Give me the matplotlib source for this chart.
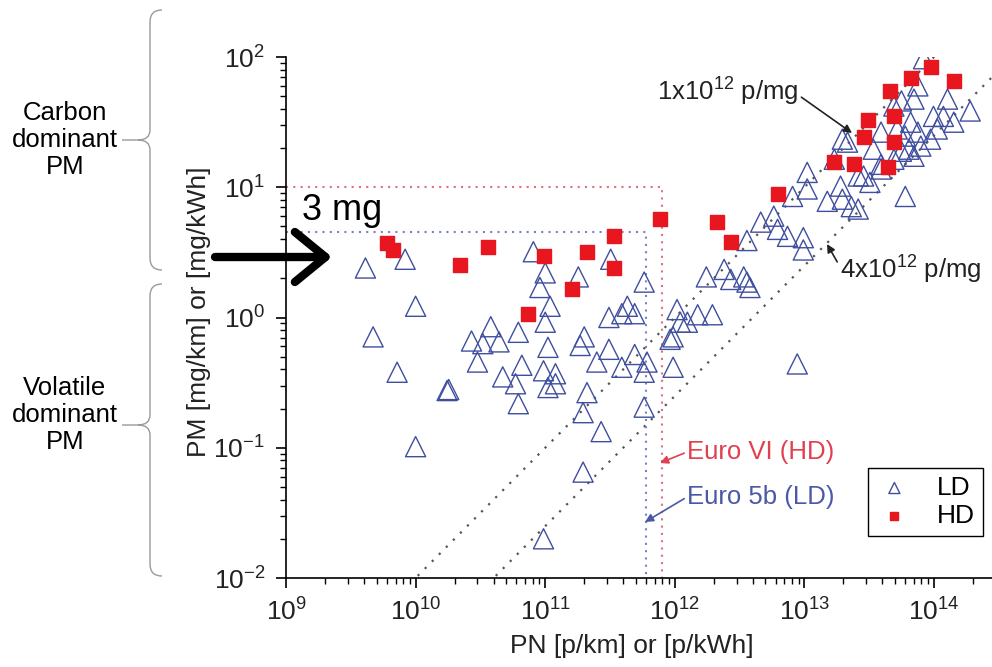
import numpy as np
import matplotlib
matplotlib.use("Agg")
import matplotlib.pyplot as plt
from matplotlib.path import Path
from matplotlib.patches import PathPatch
from matplotlib.ticker import LogLocator, LogFormatterMathtext, NullFormatter

plt.rcParams['font.family'] = ['Liberation Sans', 'DejaVu Sans']
plt.rcParams['mathtext.fontset'] = 'custom'
plt.rcParams['mathtext.rm'] = 'Liberation Sans'
plt.rcParams['mathtext.it'] = 'Liberation Sans:italic'
plt.rcParams['mathtext.bf'] = 'Liberation Sans:bold'
plt.rcParams['axes.unicode_minus'] = False

# heavy duty engines (red squares)
hd_pn = [6.0e9, 6.7e9, 2.2e10, 3.6e10, 9.7e10, 2.1e11, 3.4e11, 3.4e11, 1.6e11, 7.4e10,
         7.7e11, 2.1e12, 2.7e12, 6.2e12, 1.7e13, 2.4e13, 4.4e13, 2.9e13, 4.9e13, 3.1e13,
         4.9e13, 4.6e13, 6.6e13, 9.4e13, 1.42e14]
hd_pm = [3.7, 3.3, 2.55, 3.5, 2.95, 3.2, 4.2, 2.4, 1.66, 1.07,
         5.7, 5.4, 3.8, 8.8, 15.6, 15.0, 14.3, 24.3, 22.2, 33,
         35, 55, 69, 84, 65]

# light duty vehicles (open triangles)
ld_pn = [4.1e9, 8.3e9, 1.0e10, 4.7e9, 7.2e9, 1.75e10, 1.8e10, 1.0e10, 8.1e10, 1.0e11,
         9.1e10, 1.09e11, 1.0e11, 6.2e10, 3.8e10, 2.7e10, 3.3e10, 4.4e10, 3.0e10, 6.6e10,
         1.05e11, 4.7e10, 5.9e10, 9.7e10, 1.2e11, 1.05e11, 1.2e11, 6.2e10, 1.8e11, 3.2e11,
         5.8e11, 2.0e11, 1.86e11, 2.5e11, 3.1e11, 3.1e11, 4.3e11, 3.9e11, 4.9e11, 3.9e11,
         4.9e11, 6.1e11, 5.8e11, 2.1e11, 1.96e11, 2.7e11, 5.8e11, 1.96e11, 9.7e10, 1.04e12,
         9.7e11, 9.7e11, 1.1e12, 1.5e12, 1.95e12, 1.25e12, 9.2e11, 1.75e12, 2.4e12, 2.7e12,
         3.4e12, 3.6e12, 3.8e12, 3.6e12, 4.6e12, 5.8e12, 6.2e12, 7.4e12, 8.1e12, 9.8e12,
         9.8e12, 1.05e13, 1.05e13, 1.5e13, 1.9e13, 1.96e13, 2.3e13, 2.6e13, 2.6e13, 1.7e13,
         1.96e13, 2.86e13, 3.2e13, 3.9e13, 4.9e13, 5.6e13, 6.0e13, 7.0e13, 7.5e13, 6.0e13,
         5.2e13, 6.6e13, 7.0e13, 9.4e13, 9.9e13, 1.06e14, 1.27e14, 1.18e14, 1.42e14, 1.9e14,
         3.4e13, 8.3e13, 3.9e13, 4.9e13, 5.6e13, 7.5e13, 3.9e13, 7.9e13, 6.4e13, 8.8e12,
         2.15e13]
ld_pm = [2.4, 2.8, 1.22, 0.71, 0.38, 0.275, 0.28, 0.102, 3.2, 2.2,
         1.70, 1.22, 0.92, 0.77, 0.85, 0.66, 0.63, 0.65, 0.455, 0.43,
         0.59, 0.35, 0.31, 0.39, 0.37, 0.29, 0.31, 0.218, 2.05, 2.8,
         1.87, 0.71, 0.61, 0.455, 0.57, 1.0, 1.22, 1.07, 1.07, 0.415,
         0.52, 0.455, 0.38, 0.265, 0.186, 0.133, 0.205, 0.065, 0.020, 1.15,
         0.71, 0.415, 0.92, 1.05, 1.05, 0.92, 0.68, 2.05, 2.34, 1.96,
         2.05, 1.87, 1.70, 3.9, 5.4, 6.0, 4.75, 4.2, 8.5, 4.1,
         3.3, 9.7, 13.0, 7.8, 10.2, 8.1, 7.1, 6.8, 12.2, 16.4,
         23.4, 12.2, 10.9, 15.0, 16.4, 18.9, 8.5, 17.3, 26.5, 24.7,
         28, 31.6, 47.5, 23.4, 35, 28, 47.5, 35, 31.6, 38.5,
         19.6, 97, 26.5, 42, 46, 60, 13.8, 20.7, 19.6, 0.44,
         22.2]

# particles per mg reference lines
pn_per_mg = [1e12, 4e12]
# regulation limits: (PN, PM)
euro6_hd = (8e11, 10.0)
euro5b_ld = (6e11, 4.5)

W, H = 992, 667


def fp(x, y):
    # pixel position (from top-left) -> figure fraction
    return (x / W, 1 - y / H)


fig = plt.figure(figsize=(W / 100, H / 100), dpi=100)
ax = fig.add_axes([286 / W, 89 / H, 706 / W, 521 / H])
ax.set_xscale('log')
ax.set_yscale('log')
ax.set_xlim(1e9, 2.8e14)
ax.set_ylim(1e-2, 1e2)

# reference dotted lines
xx = np.logspace(9, 15, 50)
for k in pn_per_mg:
    ax.plot(xx, xx / k, color='#555555', ls=(0, (1, 3.5)), lw=1.6, zorder=1)

# limit boxes
ax.plot([1e9, euro6_hd[0], euro6_hd[0]], [euro6_hd[1], euro6_hd[1], 1e-2],
        color='#e0707c', ls=(0, (1, 2.5)), lw=1.5, zorder=1)
ax.plot([1e9, euro5b_ld[0], euro5b_ld[0]], [euro5b_ld[1], euro5b_ld[1], 1e-2],
        color='#7583c4', ls=(0, (1, 2.5)), lw=1.5, zorder=1)

ax.scatter(ld_pn, ld_pm, marker='^', s=210, facecolors='none',
           edgecolors='#3f4e9e', linewidths=1.0, label='LD', zorder=2)
ax.scatter(hd_pn, hd_pm, marker='s', s=105, color='#e8161e',
           edgecolors='#e8161e', label='HD', zorder=3)

for side in ['top', 'right']:
    ax.spines[side].set_visible(False)
for side in ['left', 'bottom']:
    ax.spines[side].set_linewidth(1.2)

ax.xaxis.set_major_locator(LogLocator(base=10, numticks=20))
ax.yaxis.set_major_locator(LogLocator(base=10, numticks=20))
ax.xaxis.set_minor_locator(LogLocator(base=10, subs=np.arange(2, 10), numticks=20))
ax.yaxis.set_minor_locator(LogLocator(base=10, subs=np.arange(2, 10), numticks=20))
ax.xaxis.set_major_formatter(LogFormatterMathtext())
ax.yaxis.set_major_formatter(LogFormatterMathtext())
ax.xaxis.set_minor_formatter(NullFormatter())
ax.yaxis.set_minor_formatter(NullFormatter())
ax.tick_params(which='major', direction='out', length=7, width=1.2,
               labelsize=19, labelcolor='#222222', pad=8)
ax.tick_params(which='minor', direction='out', length=4, width=1.0)

ax.set_xlabel('PN [p/km] or [p/kWh]', fontsize=19, color='#222222')
ax.set_ylabel('PM [mg/km] or [mg/kWh]', fontsize=19, color='#222222')
ax.xaxis.set_label_coords((632 - 286) / 706, (578 - 634) / 521)
ax.yaxis.set_label_coords((211 - 286) / 706, (578 - 312) / 521)

# line annotations
ax.annotate('1x10$^{12}$ p/mg', xy=fp(852, 133), xytext=fp(657, 92),
            xycoords='figure fraction', textcoords='figure fraction',
            fontsize=18.5, color='#222222', va='center', ha='left',
            arrowprops=dict(arrowstyle='-|>', color='#222222', lw=1.2,
                            mutation_scale=12, shrinkA=0, shrinkB=0,
                            relpos=(1.0, 0.4)))
ax.annotate('4x10$^{12}$ p/mg', xy=fp(827, 244), xytext=fp(840, 270),
            xycoords='figure fraction', textcoords='figure fraction',
            fontsize=18.5, color='#222222', va='center', ha='left',
            arrowprops=dict(arrowstyle='-|>', color='#222222', lw=1.2,
                            mutation_scale=12, shrinkA=0, shrinkB=0,
                            relpos=(0.0, 0.6)))
ax.annotate('Euro VI (HD)', xy=fp(660, 463), xytext=fp(687, 452),
            xycoords='figure fraction', textcoords='figure fraction',
            fontsize=18.5, color='#e0404f', va='center', ha='left',
            arrowprops=dict(arrowstyle='-|>', color='#e0404f', lw=1.2,
                            mutation_scale=12, shrinkA=0, shrinkB=0,
                            relpos=(0.0, 0.5)))
ax.annotate('Euro 5b (LD)', xy=fp(645, 522), xytext=fp(687, 497),
            xycoords='figure fraction', textcoords='figure fraction',
            fontsize=18.5, color='#4a58a8', va='center', ha='left',
            arrowprops=dict(arrowstyle='-|>', color='#4a58a8', lw=1.2,
                            mutation_scale=12, shrinkA=0, shrinkB=0,
                            relpos=(0.0, 0.5)))

leg = ax.legend(loc='upper left', bbox_to_anchor=fp(868, 468),
                bbox_transform=fig.transFigure, fontsize=19, markerscale=0.55,
                handlelength=1.4, handletextpad=0.9, borderpad=0.3,
                borderaxespad=0, labelspacing=0.15, fancybox=False,
                framealpha=1)
leg.get_frame().set_edgecolor('black')
leg.get_frame().set_linewidth(1.0)

# 3 mg marker arrow
fig.text(*fp(302, 211), '3 mg', fontsize=26, va='center', ha='left')
ax.annotate('', xy=fp(332, 257), xytext=fp(215, 257),
            xycoords='figure fraction', textcoords='figure fraction',
            annotation_clip=False,
            arrowprops=dict(arrowstyle='->, head_length=0.55, head_width=0.45',
                            lw=6, color='black', mutation_scale=40,
                            shrinkA=0, shrinkB=0))


def brace(top, bot, mid, x0=150):
    pts = [fp(x0 + 12, top), fp(x0, top), fp(x0, top + 12), fp(x0, mid - 10),
           fp(x0, mid), fp(x0 - 12, mid), fp(x0 - 28, mid),
           fp(x0 - 12, mid), fp(x0, mid), fp(x0, mid + 10), fp(x0, bot - 12),
           fp(x0, bot), fp(x0 + 12, bot)]
    codes = [Path.MOVETO, Path.CURVE3, Path.CURVE3, Path.LINETO,
             Path.CURVE3, Path.CURVE3, Path.LINETO,
             Path.MOVETO, Path.CURVE3, Path.CURVE3, Path.LINETO,
             Path.CURVE3, Path.CURVE3]
    fig.patches.append(PathPatch(Path(pts, codes), transform=fig.transFigure,
                                 fill=False, edgecolor='#9a9a9a', lw=1.0))


brace(10, 270, 140)
brace(284, 576, 425)

fig.text(*fp(65, 140), 'Carbon\ndominant\nPM', fontsize=18.5, ha='center',
         va='center', linespacing=1.15)
fig.text(*fp(65, 415), 'Volatile\ndominant\nPM', fontsize=18.5, ha='center',
         va='center', linespacing=1.15)

fig.savefig('out.png', dpi=100)
